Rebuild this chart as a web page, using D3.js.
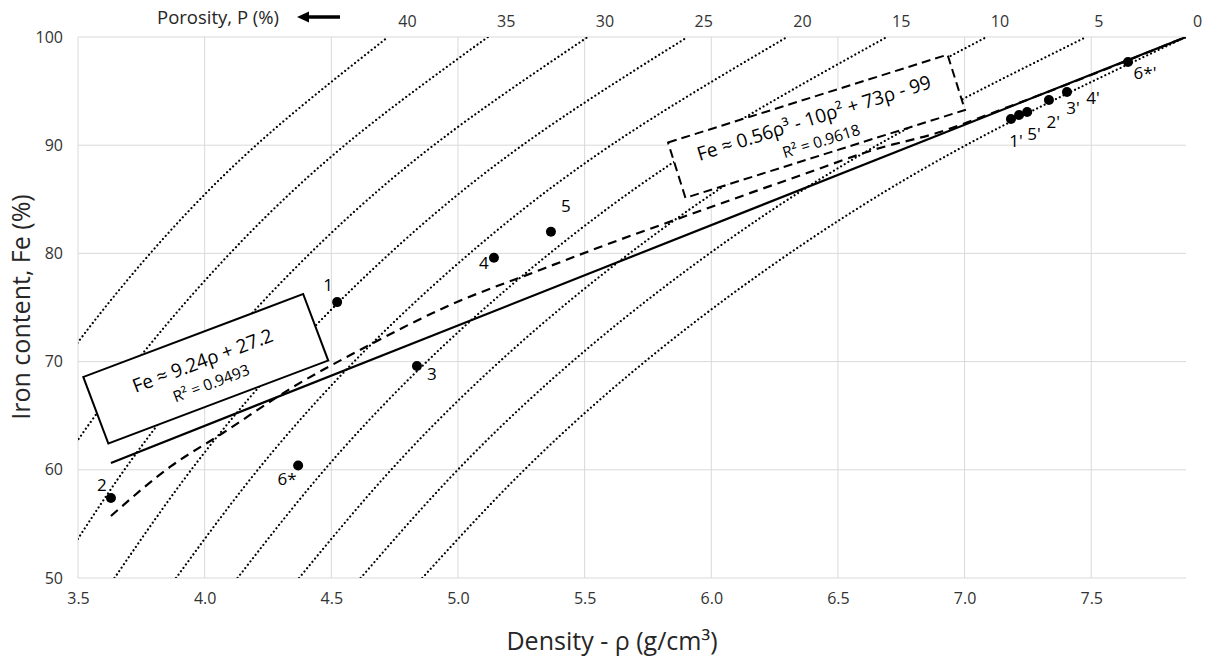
<!DOCTYPE html>
<html lang="en">
<head>
<meta charset="utf-8">
<title>Iron content vs density</title>
<script src="https://d3js.org/d3.v7.min.js"></script>
<style>
  body { margin: 0; background: #fff; }
  svg { display: block; font-family: "Open Sans", "Noto Sans", sans-serif; }
</style>
</head>
<body>
<svg id="chart"></svg>
<script>
// ---- data ----
const densityTicks = [3.5, 4.0, 4.5, 5.0, 5.5, 6.0, 6.5, 7.0, 7.5];
const ironTicks = [50, 60, 70, 80, 90, 100];
const porosityTicks = [0, 5, 10, 15, 20, 25, 30, 35, 40];

// measured samples
const sampleNames = ["1", "2", "3", "4", "5", "6*"];
const sampleDensity = [4.523, 3.630, 4.838, 5.142, 5.367, 4.369];
const sampleIron = [75.5, 57.4, 69.6, 79.6, 82.0, 60.4];

// samples recomputed to zero porosity
const primeNames = ["1'", "5'", "2'", "3'", "4'", "6*'"];
const primeDensity = [7.183, 7.215, 7.247, 7.333, 7.404, 7.645];
const primeIron = [92.42, 92.79, 93.07, 94.18, 94.92, 97.69];

// iso-porosity curves: density at each iron level
const isoIron = [50, 60, 70, 80, 90, 100];
const isoPorosity = [0, 5, 10, 15, 20, 25, 30, 35, 40];
const isoDensity = [
  [4.859, 5.262, 5.738, 6.308, 7.005, 7.874],
  [4.616, 4.999, 5.451, 5.993, 6.655, 7.480],
  [4.373, 4.736, 5.164, 5.677, 6.305, 7.087],
  [4.130, 4.473, 4.877, 5.362, 5.954, 6.693],
  [3.887, 4.210, 4.590, 5.046, 5.604, 6.299],
  [3.644, 3.947, 4.304, 4.731, 5.254, 5.906],
  [3.401, 3.683, 4.017, 4.416, 4.904, 5.512],
  [3.158, 3.420, 3.730, 4.100, 4.553, 5.118],
  [2.915, 3.157, 3.443, 3.785, 4.203, 4.724]
];

// fitted trend lines
const linearFitDensity = [3.630, 7.874];
const linearFitIron = [60.63, 100];
const cubicFitDensity = [3.630, 3.863, 4.072, 4.349, 4.613, 4.969, 5.324, 5.561, 5.888, 6.378, 6.639, 6.903, 7.140, 7.874];
const cubicFitIron = [55.73, 60.26, 63.40, 67.65, 71.07, 75.23, 78.47, 80.59, 83.36, 87.43, 89.56, 91.22, 93.25, 100];

// label offsets (layout only)
const sampleLabelOffset = [[-9, -18], [-9, -13], [15, 8], [-10, 5], [15, -26], [-11, 13]];
const primeLabelOffset = [[5, 21], [15, 18], [26, 10], [24, 8], [26, 6], [17, 11]];

// ---- layout ----
const width = 1206, height = 659;
const plotLeft = 78, plotRight = 1186, plotTop = 37, plotBottom = 578;
const font = "'Open Sans', 'Noto Sans', sans-serif";

const svg = d3.select("#chart").attr("width", width).attr("height", height);

const x = d3.scaleLinear().domain([3.5, 7.874]).range([plotLeft, plotRight]);
const y = d3.scaleLinear().domain([50, 100]).range([plotBottom, plotTop]);
const p = d3.scaleLinear().domain([0, 40]).range([1197, 407]);

svg.append("defs").append("clipPath").attr("id", "plotClip")
  .append("rect").attr("x", plotLeft).attr("y", plotTop)
  .attr("width", plotRight - plotLeft).attr("height", plotBottom - plotTop);

// grid
svg.append("g").selectAll("line").data(densityTicks).enter().append("line")
  .attr("x1", d => x(d)).attr("x2", d => x(d))
  .attr("y1", plotTop).attr("y2", plotBottom)
  .attr("stroke", "#d9d9d9").attr("stroke-width", 1);
svg.append("g").selectAll("line").data(ironTicks).enter().append("line")
  .attr("x1", plotLeft).attr("x2", plotRight)
  .attr("y1", d => y(d)).attr("y2", d => y(d))
  .attr("stroke", "#d9d9d9").attr("stroke-width", 1);

// axes
function styleAxis(g) {
  g.attr("font-family", font).attr("font-size", 16);
  g.select(".domain").remove();
  g.selectAll(".tick text").attr("fill", "#333");
}
svg.append("g").attr("transform", `translate(0,${plotBottom})`)
  .call(d3.axisBottom(x).tickValues(densityTicks).tickFormat(d3.format(".1f")).tickSize(0).tickPadding(15))
  .call(styleAxis);

svg.append("g").attr("transform", `translate(${plotLeft},0)`)
  .call(d3.axisLeft(y).tickValues(ironTicks).tickSize(0).tickPadding(15))
  .call(styleAxis);

svg.append("g").attr("transform", `translate(0,${plotTop})`)
  .call(d3.axisTop(p).tickValues(porosityTicks).tickSize(0).tickPadding(10))
  .call(styleAxis);

// axis titles
svg.append("text").attr("x", 612).attr("y", 650).attr("text-anchor", "middle")
  .attr("font-size", 25).attr("fill", "#262626").text("Density - ρ (g/cm³)");
svg.append("text").attr("transform", "translate(30,307) rotate(-90)").attr("text-anchor", "middle")
  .attr("font-size", 25).attr("fill", "#262626").text("Iron content, Fe (%)");
svg.append("text").attr("x", 157).attr("y", 24)
  .attr("font-size", 18.5).attr("fill", "#262626").text("Porosity, P (%)");
// arrow
svg.append("line").attr("x1", 306).attr("x2", 340).attr("y1", 17).attr("y2", 17)
  .attr("stroke", "#000").attr("stroke-width", 3.5);
svg.append("path").attr("d", "M297,17 L309,11.5 L309,22.5 Z").attr("fill", "#000");

const plot = svg.append("g").attr("clip-path", "url(#plotClip)");

// iso-porosity dotted curves
const isoLine = d3.line().x(d => x(d[0])).y(d => y(d[1])).curve(d3.curveNatural);
plot.selectAll(".iso").data(isoDensity).enter().append("path")
  .attr("class", "iso")
  .attr("d", row => isoLine(row.map((r, i) => [r, isoIron[i]])))
  .attr("fill", "none").attr("stroke", "#000").attr("stroke-width", 2.2)
  .attr("stroke-linecap", "round").attr("stroke-dasharray", "0.01 4.2");

// fits
const fitLine = d3.line().x(d => x(d[0])).y(d => y(d[1]));
plot.append("path")
  .attr("d", fitLine(linearFitDensity.map((r, i) => [r, linearFitIron[i]])))
  .attr("fill", "none").attr("stroke", "#000").attr("stroke-width", 2.2);
plot.append("path")
  .attr("d", fitLine.curve(d3.curveMonotoneX)(cubicFitDensity.map((r, i) => [r, cubicFitIron[i]])))
  .attr("fill", "none").attr("stroke", "#000").attr("stroke-width", 2.2)
  .attr("stroke-dasharray", "9 6");

// points
function drawPoints(names, dens, iron, offs) {
  const g = svg.append("g");
  g.selectAll("circle").data(names).enter().append("circle")
    .attr("cx", (d, i) => x(dens[i])).attr("cy", (d, i) => y(iron[i]))
    .attr("r", 5).attr("fill", "#000");
  g.selectAll("text").data(names).enter().append("text")
    .attr("x", (d, i) => x(dens[i]) + offs[i][0])
    .attr("y", (d, i) => y(iron[i]) + offs[i][1])
    .attr("text-anchor", "middle").attr("dominant-baseline", "central")
    .attr("font-size", 17).attr("fill", "#000").text(d => d);
}
drawPoints(sampleNames, sampleDensity, sampleIron, sampleLabelOffset);
drawPoints(primeNames, primeDensity, primeIron, primeLabelOffset);

// equation boxes
function eqBox(cx, cy, angle, w, h, dash, line1, line2) {
  const g = svg.append("g").attr("transform", `translate(${cx},${cy}) rotate(${angle})`);
  g.append("rect").attr("x", -w / 2).attr("y", -h / 2).attr("width", w).attr("height", h)
    .attr("fill", "#fff").attr("stroke", "#000").attr("stroke-width", 2)
    .attr("stroke-dasharray", dash);
  g.append("text").attr("x", 0).attr("y", -2).attr("text-anchor", "middle")
    .attr("font-size", 19).attr("fill", "#000").text(line1);
  g.append("text").attr("x", 0).attr("y", 21).attr("text-anchor", "middle")
    .attr("font-size", 15.5).attr("fill", "#000").text(line2);
}
eqBox(205.75, 368.75, -20.67, 235, 71, null, "Fe ≈ 9.24ρ + 27.2", "R² = 0.9493");
eqBox(816.5, 126.25, -17.45, 293, 58, "9 5", "Fe ≈ 0.56ρ³ - 10ρ² + 73ρ - 99", "R² = 0.9618");
</script>
</body>
</html>
